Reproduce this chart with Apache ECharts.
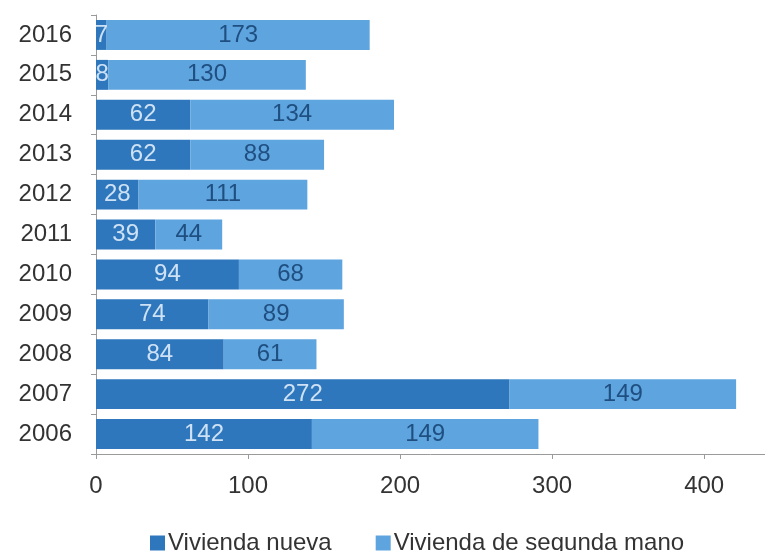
<!DOCTYPE html>
<html>
<head>
<meta charset="utf-8">
<script src="https://cdn.jsdelivr.net/npm/echarts@6/dist/echarts.min.js"></script>
<style>
  html, body { margin: 0; padding: 0; background: #ffffff; }
  #chart { width: 765px; height: 551px; }
</style>
</head>
<body>
<div id="chart"></div>
<script>
// Compraventa de viviendas por año (2006–2016)
const years = ['2006', '2007', '2008', '2009', '2010', '2011', '2012', '2013', '2014', '2015', '2016'];
const viviendaNueva = [142, 272, 84, 74, 94, 39, 28, 62, 62, 8, 7];
const viviendaSegundaMano = [149, 149, 61, 89, 68, 44, 111, 88, 134, 130, 173];
const xTicks = [0, 100, 200, 300, 400];

const chart = echarts.init(document.getElementById('chart'));
const font = "'Liberation Sans', 'DejaVu Sans', sans-serif";
const fs = 24;

chart.setOption({
  animation: false,
  grid: { left: 96, right: 0, top: 15, bottom: 97 },
  legend: {
    top: 531,
    left: 150,
    padding: 0,
    itemWidth: 15,
    itemHeight: 15,
    itemGap: 44,
    icon: 'rect',
    textStyle: { fontFamily: font, fontSize: fs, color: '#333', padding: [0, 0, 0, -2] },
    data: ['Vivienda nueva', 'Vivienda de segunda mano']
  },
  xAxis: {
    type: 'value',
    min: 0,
    max: 440,
    interval: 100,
    axisLine: { show: true, lineStyle: { color: '#9a9a9a' } },
    axisTick: { show: true, length: 5, lineStyle: { color: '#9a9a9a' } },
    splitLine: { show: false },
    axisLabel: {
      fontFamily: font, fontSize: fs, color: '#333', margin: 20,
      showMaxLabel: false,
      formatter: v => (xTicks.indexOf(v) >= 0 ? String(v) : '')
    }
  },
  yAxis: {
    type: 'category',
    data: years,
    axisLine: { show: true, lineStyle: { color: '#9a9a9a' } },
    axisTick: { show: true, length: 5, lineStyle: { color: '#9a9a9a' } },
    axisLabel: { fontFamily: font, fontSize: fs, color: '#333', margin: 24 }
  },
  series: [
    {
      name: 'Vivienda nueva',
      type: 'bar',
      stack: 'total',
      barWidth: '75%',
      data: viviendaNueva,
      itemStyle: { color: '#2e77bd' },
      label: {
        show: true, position: 'inside',
        fontFamily: font, fontSize: fs, color: '#cfe2f5'
      }
    },
    {
      name: 'Vivienda de segunda mano',
      type: 'bar',
      stack: 'total',
      barWidth: '75%',
      data: viviendaSegundaMano,
      itemStyle: { color: '#5ea4df' },
      label: {
        show: true, position: 'inside',
        fontFamily: font, fontSize: fs, color: '#1f4f80'
      }
    }
  ]
});
</script>
</body>
</html>
